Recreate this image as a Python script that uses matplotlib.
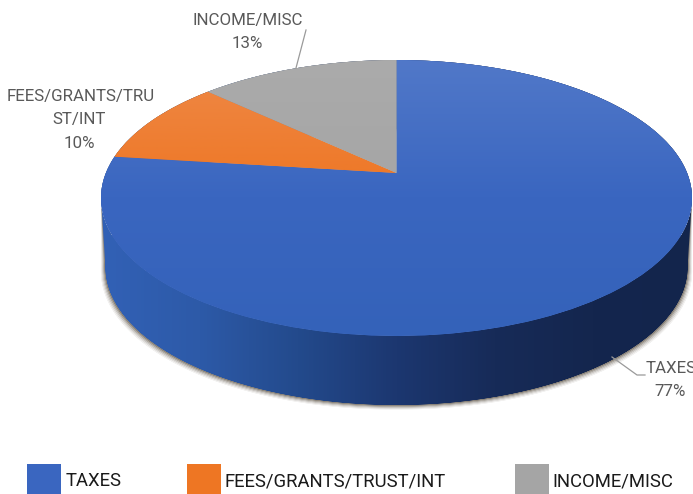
import numpy as np
import matplotlib
matplotlib.use("Agg")
import matplotlib.pyplot as plt
from matplotlib.colors import LinearSegmentedColormap
from matplotlib.patches import Rectangle, Polygon
from matplotlib.transforms import Transform

categories = ["TAXES", "FEES/GRANTS/TRUST/INT", "INCOME/MISC"]
values = [77, 10, 13]
pct_labels = ["77%", "10%", "13%"]
colors = ["#3a66c0", "#ee7623", "#a5a5a5"]
top_grads = [["#5279c9", "#3a66c0", "#3462b9"],
             ["#ee8a4a", "#ee7623", "#e8701c"],
             ["#ababab", "#a5a5a5", "#9a9a9a"]]
wall_stops = ["#3261b6", "#2d5aa8", "#234a8c", "#1c3770", "#172b58", "#14264e", "#13254c"]

# Screen geometry of the tilted disc (pixels)
AX, AY, A, B, K = 396.5, 173.0, 290.6, 133.4, 0.181
DEPTH = 69.0
BOTTOM_SCALE = 0.985
text_c = "#595959"


class Persp(Transform):
    input_dims = output_dims = 2
    is_separable = False
    def transform_non_affine(self, xy):
        xy = np.asarray(xy, float)
        w = 1 + K * xy[:, 1]
        return np.column_stack([AX + A * xy[:, 0] / w, AY - B * xy[:, 1] / w])


fig = plt.figure(figsize=(6.93, 4.94), dpi=100, facecolor="white")
ax = fig.add_axes([0, 0, 1, 1])
persp = Persp()

wedges, _ = ax.pie(values, colors=colors, startangle=90, counterclock=False, radius=1)
ax.set_aspect("auto")
ax.axis("off")

# Outline of the disc in pixels: lower half from the left extreme to the right extreme
th = np.linspace(0, 2 * np.pi, 721)
rim = persp.transform(np.column_stack([np.cos(th), np.sin(th)]))
i_left, i_right = np.argmin(rim[:, 0]), np.argmax(rim[:, 0])
lower = np.vstack([rim[i_left:], rim[1:i_right + 1]])


def wall_outline(grow_x=0.0, grow_y=0.0):
    bottom = lower.copy()
    bottom[:, 0] = AX + (bottom[:, 0] - AX) * BOTTOM_SCALE + np.sign(bottom[:, 0] - AX) * grow_x
    bottom[:, 1] += DEPTH + grow_y
    return np.vstack([lower, bottom[::-1]])


wall = wall_outline()

# Soft shadow under the wall
for g, al in zip([5, 4, 3, 2, 1], [0.07, 0.10, 0.15, 0.22, 0.32]):
    ax.add_patch(Polygon(wall_outline(g * 0.9, g * 0.9), closed=True, fc="#4a4030", ec="none",
                         alpha=al, zorder=1))

# Side wall, shaded left to right
wall_cmap = LinearSegmentedColormap.from_list("wall", wall_stops)
im = ax.imshow(np.linspace(0, 1, 256)[None, :], cmap=wall_cmap, aspect="auto",
               extent=(rim[:, 0].min(), rim[:, 0].max(), 494, 0), zorder=2)
clip = Polygon(wall, closed=True, transform=ax.transData, fc="none", ec="none")
ax.add_patch(clip)
im.set_clip_path(clip)

# Top faces
for w, g in zip(wedges, top_grads):
    w.set_transform(persp + ax.transData)
    w.set_edgecolor("none")
    w.set_zorder(3)
    cm = LinearSegmentedColormap.from_list("g", g)
    tim = ax.imshow(np.linspace(0, 1, 256)[:, None], cmap=cm, aspect="auto",
                    extent=(rim[:, 0].min(), rim[:, 0].max(), 340, 55), zorder=4)
    tim.set_clip_path(w)
ax.set_xlim(0, 693)
ax.set_ylim(494, 0)

# Data labels and leader lines
lab_font = dict(family=["Roboto", "DejaVu Sans"], fontsize=12.2, color=text_c,
                ha="center", va="center", zorder=6)
ax.text(247.5, 20, "INCOME/MISC", **lab_font)
ax.text(247.5, 43, pct_labels[2], **lab_font)
ax.text(81, 96, "FEES/GRANTS/TRU", **lab_font)
ax.text(79, 119, "ST/INT", **lab_font)
ax.text(79, 143, pct_labels[1], **lab_font)
ax.text(646, 368, categories[0], clip_on=True, **{**lab_font, "ha": "left"})
ax.text(670, 391, pct_labels[0], **lab_font)
ax.plot([306, 296], [30, 68], color="#9a9a9a", lw=0.9, zorder=6)
ax.plot([612, 637, 645], [357, 375, 375], color="#9a9a9a", lw=0.9, zorder=6)

# Legend
leg_x = [27, 187, 515]
txt_x = [66, 225, 552]
for x, tx, c, name in zip(leg_x, txt_x, colors, categories):
    ax.add_patch(Rectangle((x, 464), 34, 30, fc=c, ec="none", zorder=6))
    ax.text(tx, 481, name, family=["Roboto", "DejaVu Sans"], fontsize=13.3,
            color="#1a1a1a", ha="left", va="center", zorder=6)

fig.savefig("out.png", dpi=100, facecolor="white")
